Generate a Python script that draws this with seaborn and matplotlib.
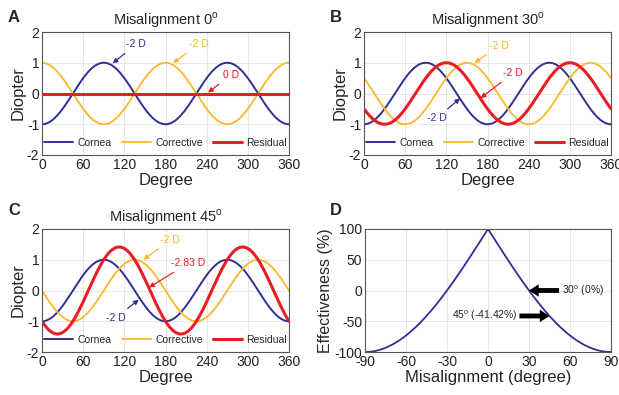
import numpy as np
import pandas as pd
import matplotlib.pyplot as plt
import seaborn as sns

# chart values
misalignments = [0, 30, 45]            # degrees, panels A-C
cornea_power = -2.0                    # D
corrective_power = -2.0                # D
residual_labels = ['0 D', '-2 D', '-2.83 D']
x_ticks_deg = [0, 60, 120, 180, 240, 300, 360]
y_ticks_d = [-2, -1, 0, 1, 2]
x_ticks_mis = [-90, -60, -30, 0, 30, 60, 90]
y_ticks_eff = [-100, -50, 0, 50, 100]
marked_mis = [30, 45]
marked_labels = [r'30$^{\mathrm{o}}$ (0%)', r'45$^{\mathrm{o}}$ (-41.42%)']

c_cornea = '#2E3192'
c_corr = '#FBB829'
c_res = '#EC1C24'

sns.set_style('whitegrid')
plt.rcParams['font.family'] = ['Liberation Sans', 'DejaVu Sans']
plt.rcParams['axes.unicode_minus'] = False
plt.rcParams['mathtext.fontset'] = 'custom'
plt.rcParams['mathtext.rm'] = 'Liberation Sans'

fig = plt.figure(figsize=(6.19, 3.95), dpi=100)
W, H = 619, 395


def place(l, t, r, b):
    return fig.add_axes([l / W, 1 - b / H, (r - l) / W, (b - t) / H])


ax_a = place(42, 32, 289, 155)
ax_b = place(364, 32, 611, 155)
ax_c = place(42, 229, 289, 352)
ax_d = place(365, 229, 611, 352)


def style(ax):
    ax.grid(True, color='#e3e3e3', lw=0.6)
    for s in ax.spines.values():
        s.set_color('#555555')
        s.set_linewidth(0.8)
    ax.tick_params(labelsize=10, length=2, direction='in', pad=2, colors='#222222')


theta = np.linspace(0, 360, 721)
th = np.radians(theta)

# annotation spots (text, arrow head) per panel: cornea, corrective, residual
spots = [
    [((137, 1.6), (103, 0.98)), ((228, 1.6), (191, 0.99)), ((275, 0.6), (242, 0.03))],
    [((106, -0.8), (140, -0.16)), ((197, 1.55), (161, 0.99)), ((217, 0.66), (170, -0.15))],
    [((108, -0.88), (141, -0.3)), ((187, 1.65), (148, 1.0)), ((213, 0.88), (156, 0.1))],
]

for i, (ax, m, lab) in enumerate(zip([ax_a, ax_b, ax_c], misalignments, residual_labels)):
    mr = np.radians(m)
    cornea = (cornea_power / 2) * np.cos(2 * th)
    corr = -(corrective_power / 2) * np.cos(2 * th + 2 * mr)
    resid = cornea + corr
    df = pd.DataFrame({'deg': theta, 'Cornea': cornea, 'Corrective': corr, 'Residual': resid})
    sns.lineplot(data=df, x='deg', y='Cornea', color=c_cornea, lw=1.4, label='Cornea', ax=ax)
    sns.lineplot(data=df, x='deg', y='Corrective', color=c_corr, lw=1.3, label='Corrective', ax=ax)
    sns.lineplot(data=df, x='deg', y='Residual', color=c_res, lw=2.2, label='Residual', ax=ax)
    style(ax)
    ax.set_xlim(0, 360)
    ax.set_ylim(-2, 2)
    ax.set_xticks(x_ticks_deg)
    ax.set_yticks(y_ticks_d)
    ax.set_xlabel('Degree', fontsize=12, labelpad=1)
    ax.set_ylabel('Diopter', fontsize=12, labelpad=1)
    ax.set_title(r'Misalignment %d$^{\mathrm{o}}$' % m, fontsize=10.5, pad=5)
    ax.legend(loc='lower center', bbox_to_anchor=(0.5, -0.02), ncol=3, frameon=False,
              fontsize=7.5, handlelength=2.8, handletextpad=0.4, columnspacing=1.0)
    texts = ['%g D' % cornea_power, '%g D' % corrective_power, lab]
    for (tpos, head), txt, c in zip(spots[i], texts, [c_cornea, c_corr, c_res]):
        ax.annotate(txt, xy=head, xytext=tpos, color=c, fontsize=7.5, ha='center', va='center',
                    arrowprops=dict(arrowstyle='-|>', color=c, lw=0.9, mutation_scale=7,
                                    shrinkA=1, shrinkB=0))

# panel D: effectiveness vs misalignment
mis = np.linspace(-90, 90, 361)
eff = 100 * (1 - np.abs(corrective_power / cornea_power * 2 * np.sin(np.radians(mis))))
sns.lineplot(x=mis, y=eff, color=c_cornea, lw=1.3, ax=ax_d)
style(ax_d)
ax_d.set_xlim(-90, 90)
ax_d.set_ylim(-100, 100)
ax_d.set_xticks(x_ticks_mis)
ax_d.set_yticks(y_ticks_eff)
ax_d.set_xlabel('Misalignment (degree)', fontsize=12, labelpad=1)
ax_d.set_ylabel('Effectiveness (%)', fontsize=11.5, labelpad=1)

for m, lab, side in zip(marked_mis, marked_labels, [1, -1]):
    yv = 100 * (1 - 2 * np.sin(np.radians(m)))
    tail = m + 22 if side > 0 else 23
    ax_d.annotate('', xy=(m, yv), xytext=(tail, yv),
                  arrowprops=dict(facecolor='black', edgecolor='none', width=3.5,
                                  headwidth=9, headlength=7, shrink=0))
    if side > 0:
        ax_d.text(tail + 2, yv, lab, fontsize=7.5, ha='left', va='center')
    else:
        ax_d.text(tail - 1.5, yv, lab, fontsize=7.5, ha='right', va='center')

for letter, x, y in [('A', 8, 17), ('B', 330, 17), ('C', 8, 211), ('D', 330, 211)]:
    fig.text(x / W, 1 - y / H, letter, fontsize=12, fontweight='bold', va='center')

fig.savefig('out.png', dpi=100)
